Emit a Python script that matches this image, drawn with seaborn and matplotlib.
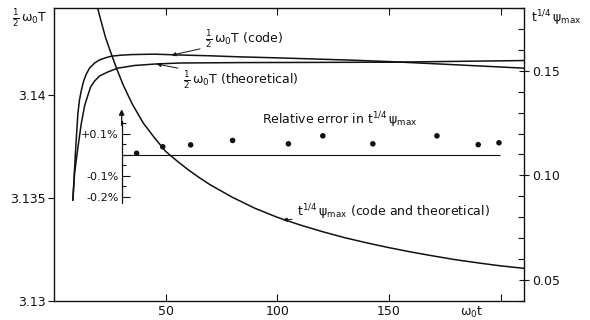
import numpy as np
import pandas as pd
import matplotlib
matplotlib.use("Agg")
import matplotlib.pyplot as plt
from matplotlib.ticker import FixedLocator, NullFormatter
import seaborn as sns

# ---- data -------------------------------------------------------------
# half period 1/2 w0 T from the code
t_code = [8.5, 9.1, 9.6, 10.0, 10.7, 11.4, 12.2, 13.2, 14.4, 15.9, 18.2, 20.4, 23.0, 25.6, 30.0,
          35.0, 45.0, 56.0, 70.0, 83.0, 100.0, 133.0, 150.0, 177.0, 210.5]
half_T_code = [3.1349, 3.1362, 3.1372, 3.1379, 3.1391, 3.13975, 3.1402, 3.14065, 3.1410, 3.1413,
               3.14155, 3.1417, 3.1418, 3.14188, 3.14193, 3.14196, 3.14198, 3.14194, 3.1419,
               3.14185, 3.1418, 3.14169, 3.14162, 3.14148, 3.1413]

# half period 1/2 w0 T, theoretical
t_theo = [8.4, 9.2, 10.7, 12.2, 13.7, 14.8, 16.4, 18.2, 20.4, 24.0, 28.5, 36.1, 45.1, 56.3,
          83.2, 150.4, 210.5]
half_T_theo = [3.13488, 3.13618, 3.13744, 3.13860, 3.13947, 3.13986, 3.14039, 3.14068, 3.14092,
               3.14111, 3.14130, 3.14143, 3.14150, 3.14155, 3.14157, 3.14159, 3.14167]

# t^(1/4) psi_max (code and theoretical)
t_psi = [19.5, 21.0, 23.0, 25.0, 28.0, 31.0, 35.0, 40.0, 45.0, 50.0, 55.0, 60.0, 65.0, 70.0,
         80.0, 90.0, 100.0, 110.0, 120.0, 130.0, 140.0, 150.0, 160.0, 170.0, 180.0, 190.0,
         200.0, 210.5]
psi_scaled = [0.1801, 0.1740, 0.1662, 0.1600, 0.1512, 0.1432, 0.1342, 0.1250, 0.1180, 0.1115,
              0.1070, 0.1028, 0.0990, 0.0955, 0.0895, 0.0843, 0.0800, 0.0764, 0.0732, 0.0703,
              0.0678, 0.0655, 0.0634, 0.0615, 0.0597, 0.0582, 0.0568, 0.0556]

# relative error in t^(1/4) psi_max, percent
t_err = [37.0, 48.7, 61.2, 80.0, 105.0, 120.4, 142.8, 171.5, 190.0, 199.3]
rel_err = [0.007, 0.038, 0.047, 0.068, 0.052, 0.090, 0.052, 0.090, 0.048, 0.057]

x_ticks = [50, 100, 150, 200]
x_tick_labels = ["50", "100", "150", ""]
left_ticks = [3.13, 3.135, 3.14]
left_tick_labels = ["3.13", "3.135", "3.14"]
right_ticks = [0.05, 0.10, 0.15]
right_tick_labels = ["0.05", "0.10", "0.15"]
err_ticks = [0.1, 0.0, -0.1, -0.2]
err_tick_labels = ["+0.1%", "", "-0.1%", "-0.2%"]

df_code = pd.DataFrame({"t": t_code, "v": half_T_code})
df_theo = pd.DataFrame({"t": t_theo, "v": half_T_theo})
df_psi = pd.DataFrame({"t": t_psi, "v": psi_scaled})
df_err = pd.DataFrame({"t": t_err, "v": rel_err})

# ---- style ------------------------------------------------------------
sns.set_style("ticks")
plt.rcParams["font.family"] = ["DejaVu Sans"]
plt.rcParams["mathtext.default"] = "regular"
plt.rcParams["mathtext.fontset"] = "dejavusans"
FS = 9          # tick labels
FS_NOTE = 9     # curve labels
INK = "#111111"

fig = plt.figure(figsize=(5.9, 3.2), dpi=100)
ax = fig.add_axes([54 / 590, 19 / 320, 470 / 590, 293 / 320])
ax2 = ax.twinx()
ax3 = ax.twinx()

# ---- main axis: half period -------------------------------------------
sns.lineplot(data=df_code, x="t", y="v", ax=ax, color=INK, lw=1.1, sort=False)
sns.lineplot(data=df_theo, x="t", y="v", ax=ax, color=INK, lw=1.1, sort=False)
ax.set_xlim(0, 210.5)
ax.set_ylim(3.13, 3.14422)
ax.set_xlabel("")
ax.set_ylabel("")
ax.set_xticks(x_ticks)
ax.set_xticklabels(x_tick_labels, fontsize=FS)
ax.set_yticks(left_ticks)
ax.set_yticklabels(left_tick_labels, fontsize=FS)
ax.tick_params(axis="x", direction="in", top=True, length=5, width=0.8, pad=3, colors=INK)
ax.tick_params(axis="y", direction="out", right=False, length=4, width=0.8, pad=2, colors=INK)
for s in ax.spines.values():
    s.set_visible(True)
    s.set_linewidth(1.0)
    s.set_color(INK)

ax.text(-0.015, 0.965, r"$\frac{1}{2}\,\omega_0 T$", transform=ax.transAxes,
        ha="right", va="center", fontsize=FS, color=INK)
ax.text(187, -0.04, r"$\omega_0 t$", transform=ax.get_xaxis_transform(),
        ha="center", va="center", fontsize=FS, color=INK)

arrow_kw = dict(arrowstyle="-|>", color=INK, lw=0.7, mutation_scale=6, shrinkA=1, shrinkB=0)
ax.annotate(r"$\frac{1}{2}\,\omega_0 T$ (code)", xy=(52.7, 3.14193), xytext=(67.5, 3.14271),
            ha="left", va="center", fontsize=FS_NOTE, color=INK, arrowprops=arrow_kw)
ax.annotate(r"$\frac{1}{2}\,\omega_0 T$ (theoretical)", xy=(46.0, 3.14150), xytext=(57.6, 3.14072),
            ha="left", va="center", fontsize=FS_NOTE, color=INK, arrowprops=arrow_kw)

# ---- right axis: t^(1/4) psi_max -------------------------------------
sns.lineplot(data=df_psi, x="t", y="v", ax=ax2, color=INK, lw=1.1, sort=False)
ax2.set_ylim(0.04, 0.18)
ax2.set_ylabel("")
ax2.set_yticks(right_ticks)
ax2.set_yticklabels(right_tick_labels, fontsize=FS)
ax2.yaxis.set_minor_locator(FixedLocator(np.arange(0.04, 0.1801, 0.01)))
ax2.tick_params(axis="y", which="major", direction="inout", length=7, width=0.8, pad=2, colors=INK)
ax2.tick_params(axis="y", which="minor", direction="in", length=4, width=0.8, colors=INK)
for s in ax2.spines.values():
    s.set_visible(False)
ax2.text(1.015, 0.965, r"$t^{1/4}\,\psi_{max}$", transform=ax2.transAxes,
         ha="left", va="center", fontsize=FS, color=INK)
ax2.annotate(r"$t^{1/4}\,\psi_{max}$ (code and theoretical)", xy=(102.5, 0.0787),
             xytext=(108.7, 0.0825), ha="left", va="center", fontsize=FS_NOTE, color=INK,
             arrowprops=arrow_kw)

# ---- inset scale: relative error -------------------------------------
err_axis_t = 30.3
err_line_end = 199.8
ax3.set_ylim(-0.6952, 0.6976)
sns.scatterplot(data=df_err, x="t", y="v", ax=ax3, color=INK, s=16, edgecolor="none", zorder=5)
ax3.hlines(0, err_axis_t, err_line_end, color=INK, lw=0.8)
ax3.set_ylabel("")
ax3.set_xlabel("")
for name, s in ax3.spines.items():
    s.set_visible(name == "left")
ax3.spines["left"].set_position(("data", err_axis_t))
ax3.spines["left"].set_bounds(-0.229, 0.16)
ax3.spines["left"].set_linewidth(0.9)
ax3.spines["left"].set_color(INK)
ax3.yaxis.set_ticks_position("left")
ax3.set_yticks(err_ticks)
ax3.set_yticklabels(err_tick_labels, fontsize=FS - 1)
ax3.yaxis.set_minor_locator(FixedLocator([0.15, 0.05, -0.05, -0.15]))
ax3.yaxis.set_minor_formatter(NullFormatter())
ax3.tick_params(axis="y", which="major", direction="in", length=6, width=0.8, pad=2, colors=INK)
ax3.tick_params(axis="y", which="minor", direction="in", length=3, width=0.8, colors=INK)
ax3.annotate("", xy=(err_axis_t, 0.216), xytext=(err_axis_t, 0.14),
             arrowprops=dict(arrowstyle="-|>", color=INK, lw=0.9, mutation_scale=8,
                             shrinkA=0, shrinkB=0))
ax3.text(93, 0.162, r"Relative error in $t^{1/4}\,\psi_{max}$", ha="left", va="center",
         fontsize=FS_NOTE, color=INK)

fig.savefig("out.png", dpi=100, facecolor="white")
